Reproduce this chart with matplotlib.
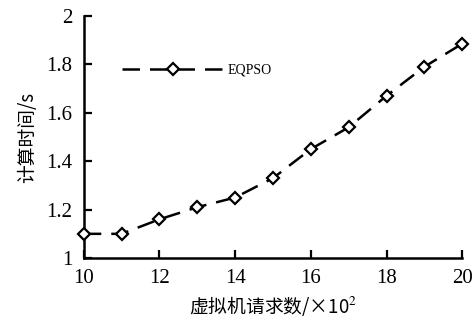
import matplotlib
matplotlib.use("Agg")
import matplotlib.pyplot as plt

plt.rcParams['font.family'] = ['Liberation Serif', 'Noto Sans CJK SC']
plt.rcParams['mathtext.fontset'] = 'stix'

x_vals = [10, 11, 12, 13, 14, 15, 16, 17, 18, 19, 20]
eqpso = [1.10, 1.10, 1.16, 1.21, 1.25, 1.33, 1.45, 1.54, 1.67, 1.79, 1.885]
x_ticks = [10, 12, 14, 16, 18, 20]
y_ticks = [1, 1.2, 1.4, 1.6, 1.8, 2]
y_ticklabels = ['1', '1.2', '1.4', '1.6', '1.8', '2']

fig = plt.figure(figsize=(4.76, 3.25), dpi=100)
ax = fig.add_axes([0.176, 0.206, 0.795, 0.745])

ax.plot(x_vals, eqpso, color='black', linestyle=(0, (7, 4)), linewidth=1.8,
        marker='D', markersize=6.5, markerfacecolor='white', markeredgecolor='black',
        markeredgewidth=1.6, label='EQPSO', clip_on=False, zorder=3)

ax.set_xlim(10, 20)
ax.set_ylim(1, 2)
ax.set_xticks(x_ticks)
ax.set_xticklabels([str(t) for t in x_ticks])
ax.set_yticks(y_ticks)
ax.set_yticklabels(y_ticklabels)
ax.tick_params(direction='in', length=6, width=1.6, labelsize=15, pad=8, colors='black')
for s in ['top', 'right']:
    ax.spines[s].set_visible(False)
for s in ['left', 'bottom']:
    ax.spines[s].set_linewidth(1.8)

ax.set_ylabel('计算时间/s', fontsize=13.5, family=['Noto Sans CJK SC', 'Liberation Serif'], labelpad=6)
ax.set_xlabel('虚拟机请求数/×10$^2$', fontsize=13.5, family=['Noto Sans CJK SC', 'Liberation Serif'], labelpad=4)

leg = ax.legend(loc='center left', bbox_to_anchor=(0.10, 0.777), frameon=False,
                handlelength=7.4, fontsize=10, handletextpad=0.2, borderpad=0, borderaxespad=0)

fig.savefig('out.png', dpi=100)
